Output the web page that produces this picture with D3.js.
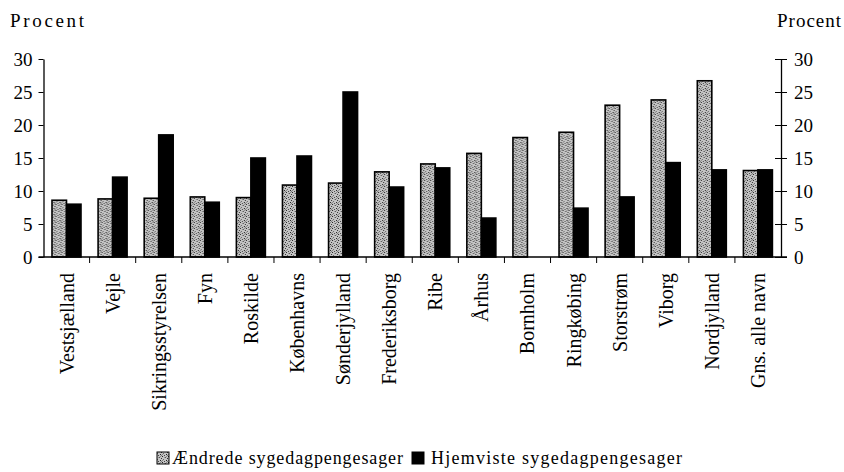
<!DOCTYPE html>
<html>
<head>
<meta charset="utf-8">
<script src="https://cdn.jsdelivr.net/npm/d3@7"></script>
<style>
  body { margin: 0; background: #fff; }
  text { font-family: "Liberation Serif", "DejaVu Serif", serif; fill: #000; }
</style>
</head>
<body>
<svg class="chart" width="844" height="472"></svg>
<script>
var categories = ['Vestsjælland', 'Vejle', 'Sikringsstyrelsen', 'Fyn', 'Roskilde', 'Københavns',
  'Sønderjylland', 'Frederiksborg', 'Ribe', 'Århus', 'Bornholm', 'Ringkøbing', 'Storstrøm',
  'Viborg', 'Nordjylland', 'Gns. alle navn'];
var aendrede = [8.6, 8.8, 8.9, 9.1, 9.0, 10.9, 11.2, 12.9, 14.1, 15.7, 18.1, 18.9, 23.0, 23.8, 26.7, 13.1];
var hjemviste = [8.0, 12.1, 18.5, 8.3, 15.0, 15.3, 25.0, 10.6, 13.5, 5.9, 0, 7.4, 9.1, 14.3, 13.2, 13.2];
var yTicks = [0, 5, 10, 15, 20, 25, 30];
var seriesNames = ['Ændrede sygedagpengesager', 'Hjemviste sygedagpengesager'];

var data = categories.map(function (c, i) {
  return { cat: c, values: [aendrede[i], hjemviste[i]] };
});

var svg = d3.select('.chart');

// speckled grey fill (fixed dot layout in a 6x6 tile)
var specks = [[0, 0, '#222'], [3, 1, '#555'], [5, 2, '#333'], [1, 3, '#666'], [4, 4, '#222'],
  [2, 5, '#444'], [0, 4, '#888'], [5, 5, '#777'], [2, 1, '#999'], [4, 0, '#888']];
var pat = svg.append('defs').append('pattern')
  .attr('id', 'speck').attr('width', 6).attr('height', 6)
  .attr('patternUnits', 'userSpaceOnUse');
pat.append('rect').attr('width', 6).attr('height', 6).attr('fill', '#c4c4c4');
pat.selectAll('rect.s')
  .data(specks)
  .join('rect')
  .attr('class', 's')
  .attr('x', function (d) { return d[0]; })
  .attr('y', function (d) { return d[1]; })
  .attr('width', 1).attr('height', 1)
  .attr('fill', function (d) { return d[2]; });

var plotLeft = 43.5, plotRight = 781, plotTop = 59, plotBottom = 257;

var x0 = d3.scaleBand().domain(categories).range([plotLeft, plotRight]);
var x1 = d3.scaleBand().domain([0, 1]).range([8.5, 37.5]);
var y = d3.scaleLinear().domain([0, 30]).range([plotBottom, plotTop]);

var fills = ['url(#speck)', '#000'];

svg.append('g')
  .selectAll('g')
  .data(data)
  .join('g')
  .attr('transform', function (d) { return 'translate(' + x0(d.cat) + ',0)'; })
  .selectAll('rect')
  .data(function (d) { return d.values.map(function (v, i) { return { v: v, i: i }; }); })
  .join('rect')
  .attr('x', function (d) { return x1(d.i); })
  .attr('y', function (d) { return y(d.v); })
  .attr('width', x1.bandwidth())
  .attr('height', function (d) { return y(0) - y(d.v); })
  .attr('fill', function (d) { return fills[d.i]; })
  .attr('stroke', '#000')
  .attr('stroke-width', 1.6);

// left axis
var yl = svg.append('g')
  .attr('transform', 'translate(' + plotLeft + ',0)')
  .call(d3.axisLeft(y).tickValues(yTicks).tickSize(5).tickPadding(6).tickSizeOuter(0));
yl.selectAll('text').style('font-size', '19px');

// right axis, ticks cross the line
var yr = svg.append('g')
  .attr('transform', 'translate(' + plotRight + ',0)')
  .call(d3.axisRight(y).tickValues(yTicks).tickSize(6).tickPadding(7).tickSizeOuter(0));
yr.selectAll('.tick line').attr('x1', -6);
yr.selectAll('text').style('font-size', '19px');

// bottom axis with ticks at band boundaries
var xa = svg.append('g').attr('transform', 'translate(0,' + plotBottom + ')');
xa.append('line').attr('x1', plotLeft - 5).attr('x2', plotRight + 6)
  .attr('stroke', '#000').attr('stroke-width', 1.3);
xa.selectAll('line.t')
  .data(categories.slice(1))
  .join('line')
  .attr('class', 't')
  .attr('x1', function (d) { return x0(d); })
  .attr('x2', function (d) { return x0(d); })
  .attr('y1', 0).attr('y2', 6)
  .attr('stroke', '#000');
xa.selectAll('text')
  .data(categories)
  .join('text')
  .attr('transform', function (d) {
    return 'translate(' + (x0(d) + x0.bandwidth() / 2) + ',16) rotate(-90)';
  })
  .attr('text-anchor', 'end')
  .attr('dy', '0.35em')
  .style('font-size', '20px')
  .text(function (d) { return d; });

svg.selectAll('.domain').attr('stroke', '#000').attr('stroke-width', 1.3);
svg.selectAll('.tick line').attr('stroke', '#000');

// titles
svg.append('text').attr('x', 10).attr('y', 27).style('font-size', '19px')
  .attr('textLength', 74).text('Procent');
svg.append('text').attr('x', 777).attr('y', 27).style('font-size', '19px')
  .attr('textLength', 64).text('Procent');

// legend
var legendX = [157, 412];
var legendTextX = [172, 431];
var legendLen = [231, 251];
var lg = svg.append('g');
lg.selectAll('rect')
  .data(seriesNames)
  .join('rect')
  .attr('x', function (d, i) { return legendX[i]; })
  .attr('y', 452).attr('width', 12).attr('height', 12)
  .attr('fill', function (d, i) { return fills[i]; })
  .attr('stroke', '#000').attr('stroke-width', 1);
lg.selectAll('text')
  .data(seriesNames)
  .join('text')
  .attr('x', function (d, i) { return legendTextX[i]; })
  .attr('y', 464)
  .attr('textLength', function (d, i) { return legendLen[i]; })
  .style('font-size', '18px')
  .text(function (d) { return d; });
</script>
</body>
</html>
